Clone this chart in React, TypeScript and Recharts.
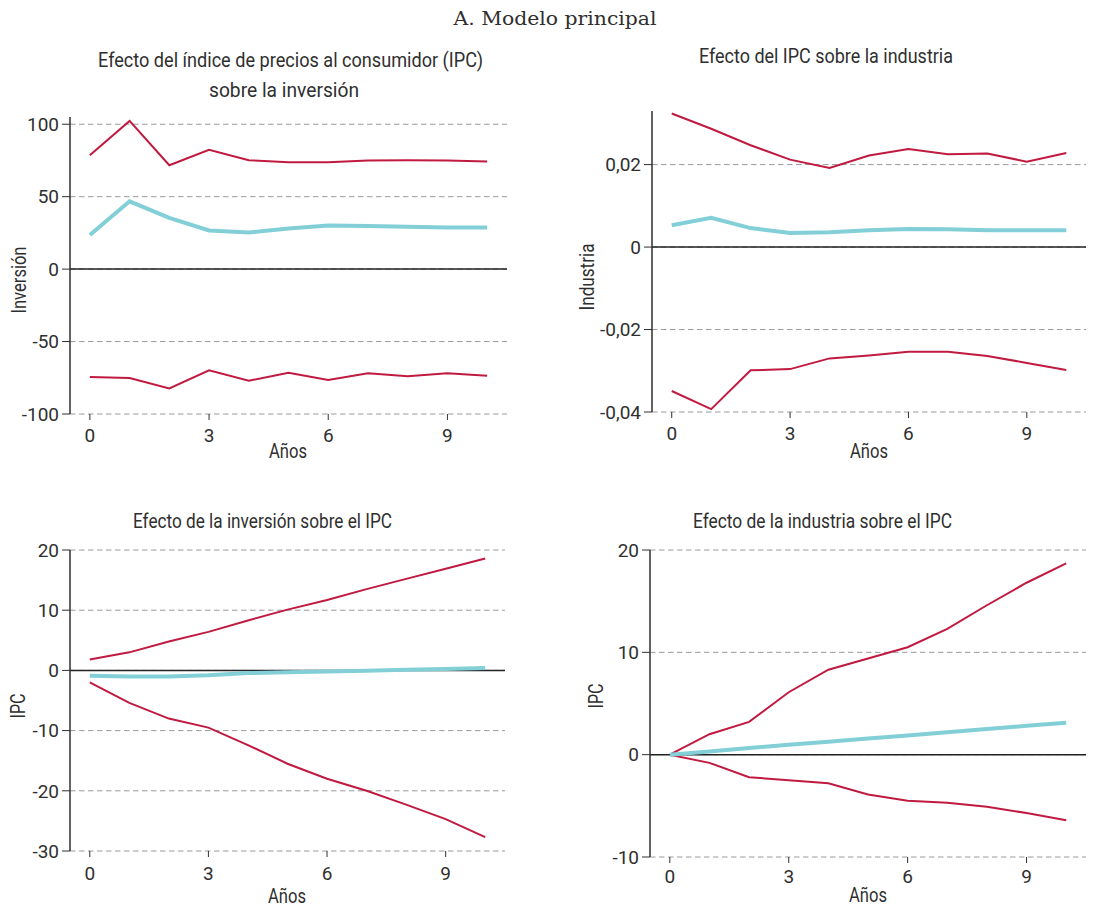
import { LineChart, Line, XAxis, YAxis, CartesianGrid, ReferenceLine } from 'recharts'

// horizon in years
const years = [0, 1, 2, 3, 4, 5, 6, 7, 8, 9, 10]
const xTicks = [0, 3, 6, 9]

// Efecto del IPC sobre la inversión
const invUpper = [78.6, 102.3, 71.7, 82.3, 75.2, 73.8, 73.8, 75.0, 75.2, 75.0, 74.3]
const invMean = [23.5, 46.8, 35.4, 26.7, 25.3, 28.0, 30.1, 29.7, 29.2, 28.8, 28.8]
const invLower = [-74.5, -75.2, -82.4, -69.8, -77.0, -71.6, -76.5, -71.8, -74.0, -71.9, -73.6]
const invTicks = [-100, -50, 0, 50, 100]

// Efecto del IPC sobre la industria
const indUpper = [0.0324, 0.0287, 0.0247, 0.0212, 0.0192, 0.0222, 0.0238, 0.0225, 0.0227, 0.0207, 0.0228]
const indMean = [0.0053, 0.0071, 0.0046, 0.0034, 0.0036, 0.0041, 0.0044, 0.0043, 0.0041, 0.0041, 0.0041]
const indLower = [-0.0349, -0.0393, -0.0299, -0.0296, -0.027, -0.0263, -0.0254, -0.0254, -0.0264, -0.0281, -0.0298]
const indTicks = [-0.04, -0.02, 0, 0.02]

// Efecto de la inversión sobre el IPC
const ipcInvUpper = [1.8, 3.0, 4.8, 6.4, 8.3, 10.1, 11.7, 13.5, 15.2, 16.9, 18.6]
const ipcInvMean = [-0.9, -1.0, -1.0, -0.8, -0.45, -0.3, -0.2, -0.05, 0.1, 0.25, 0.4]
const ipcInvLower = [-2.0, -5.4, -8.0, -9.5, -12.4, -15.5, -18.0, -20.0, -22.3, -24.7, -27.7]
const ipcInvTicks = [-30, -20, -10, 0, 10, 20]

// Efecto de la industria sobre el IPC
const ipcIndUpper = [0, 2.0, 3.2, 6.1, 8.3, 9.4, 10.5, 12.3, 14.6, 16.8, 18.7]
const ipcIndMean = [0, 0.32, 0.65, 0.96, 1.27, 1.58, 1.88, 2.2, 2.51, 2.82, 3.12]
const ipcIndLower = [0, -0.8, -2.2, -2.5, -2.8, -3.9, -4.5, -4.7, -5.1, -5.7, -6.4]
const ipcIndTicks = [-10, 0, 10, 20]

const SANS = "Roboto, 'Liberation Sans', sans-serif"
const SERIF = "'DejaVu Serif', 'Liberation Serif', serif"
const RED = '#C01A40'
const CYAN = '#82CFD7'
const INK = '#2f2f2f'

const toRows = (upper: number[], mean: number[], lower: number[]) =>
  years.map((x, i) => ({ x, upper: upper[i], mean: mean[i], lower: lower[i] }))

// decimal comma, like the source
const fmt = (v: number) => String(v).replace('.', ',')

interface PanelProps {
  left: number
  top: number
  width: number
  height: number
  margin: { top: number; right: number; bottom: number; left: number }
  rows: { x: number; upper: number; mean: number; lower: number }[]
  domain: [number, number]
  ticks: number[]
  xTickMargin: number
}

function Panel({ left, top, width, height, margin, rows, domain, ticks, xTickMargin }: PanelProps) {
  return (
    <div style={{ position: 'absolute', left, top, width, height }}>
      <LineChart width={width} height={height} data={rows} margin={margin}>
        <CartesianGrid vertical={false} syncWithTicks stroke="#9a9a9a" strokeDasharray="5.5 3.5" />
        <XAxis
          type="number"
          dataKey="x"
          domain={[-0.5, 10.5]}
          ticks={xTicks}
          interval={0}
          axisLine={false}
          tickLine={{ stroke: INK }}
          tickSize={6}
          tickMargin={xTickMargin}
          height={40}
          tick={{ fill: INK, fontSize: 19, fontFamily: SANS }}
        />
        <YAxis
          domain={domain}
          ticks={ticks}
          interval={0}
          allowDataOverflow
          width={60}
          tickSize={8}
          tickMargin={3}
          axisLine={{ stroke: INK, strokeWidth: 1.5 }}
          tickLine={{ stroke: INK }}
          tickFormatter={fmt}
          tick={{ fill: INK, fontSize: 19, fontFamily: SANS }}
        />
        <ReferenceLine y={0} stroke="#222" strokeWidth={1.5} />
        <Line type="linear" dataKey="upper" stroke={RED} strokeWidth={2} dot={false} isAnimationActive={false} />
        <Line type="linear" dataKey="lower" stroke={RED} strokeWidth={2} dot={false} isAnimationActive={false} />
        <Line type="linear" dataKey="mean" stroke={CYAN} strokeWidth={4} dot={false} isAnimationActive={false} />
      </LineChart>
    </div>
  )
}

// condensed look: squeeze each text to the width it has in the source
function VLabel({ x, y, text, len }: { x: number; y: number; text: string; len: number }) {
  return (
    <text
      x={x}
      y={y}
      transform={`rotate(-90 ${x} ${y})`}
      textAnchor="middle"
      fill={INK}
      fontSize={20}
      fontFamily={SANS}
      textLength={len}
      lengthAdjust="spacingAndGlyphs"
    >
      {text}
    </text>
  )
}

function HLabel({ x, y, text, len }: { x: number; y: number; text: string; len: number }) {
  return (
    <text
      x={x}
      y={y}
      textAnchor="middle"
      fill={INK}
      fontSize={20}
      fontFamily={SANS}
      textLength={len}
      lengthAdjust="spacingAndGlyphs"
    >
      {text}
    </text>
  )
}

export default function App() {
  return (
    <div style={{ position: 'absolute', left: 0, top: 0, width: 1094, height: 908, background: '#fff', overflow: 'hidden' }}>
      <Panel
        left={0}
        top={0}
        width={547}
        height={470}
        margin={{ top: 117, right: 40, bottom: 16, left: 10 }}
        rows={toRows(invUpper, invMean, invLower)}
        domain={[-100, 105]}
        ticks={invTicks}
        xTickMargin={9}
      />
      <Panel
        left={547}
        top={0}
        width={547}
        height={470}
        margin={{ top: 111, right: 8, bottom: 18, left: 45 }}
        rows={toRows(indUpper, indMean, indLower)}
        domain={[-0.04, 0.033]}
        ticks={indTicks}
        xTickMargin={9}
      />
      <Panel
        left={0}
        top={470}
        width={547}
        height={438}
        margin={{ top: 80, right: 42, bottom: 17, left: 10 }}
        rows={toRows(ipcInvUpper, ipcInvMean, ipcInvLower)}
        domain={[-30, 20]}
        ticks={ipcInvTicks}
        xTickMargin={10}
      />
      <Panel
        left={547}
        top={470}
        width={547}
        height={438}
        margin={{ top: 80, right: 8, bottom: 11, left: 43 }}
        rows={toRows(ipcIndUpper, ipcIndMean, ipcIndLower)}
        domain={[-10, 20]}
        ticks={ipcIndTicks}
        xTickMargin={7}
      />
      <svg width={1094} height={908} style={{ position: 'absolute', left: 0, top: 0, pointerEvents: 'none' }}>
        <text
          x={555}
          y={25}
          textAnchor="middle"
          fill={INK}
          fontSize={19}
          fontFamily={SERIF}
          textLength={203}
          lengthAdjust="spacingAndGlyphs"
        >
          A. Modelo principal
        </text>
        <HLabel x={290.5} y={66.5} len={385} text="Efecto del índice de precios al consumidor (IPC)" />
        <HLabel x={284} y={96.5} len={150} text="sobre la inversión" />
        <HLabel x={826} y={63} len={254} text="Efecto del IPC sobre la industria" />
        <HLabel x={262.5} y={528} len={259} text="Efecto de la inversión sobre el IPC" />
        <HLabel x={822.5} y={528} len={259} text="Efecto de la industria sobre el IPC" />
        <HLabel x={288} y={458} len={38} text="Años" />
        <HLabel x={869} y={458} len={38} text="Años" />
        <HLabel x={287} y={902.5} len={38} text="Años" />
        <HLabel x={868} y={901.5} len={38} text="Años" />
        <VLabel x={26} y={280} len={67} text="Inversión" />
        <VLabel x={594} y={277} len={67} text="Industria" />
        <VLabel x={25} y={706} len={25} text="IPC" />
        <VLabel x={603} y={696} len={25} text="IPC" />
      </svg>
    </div>
  )
}
